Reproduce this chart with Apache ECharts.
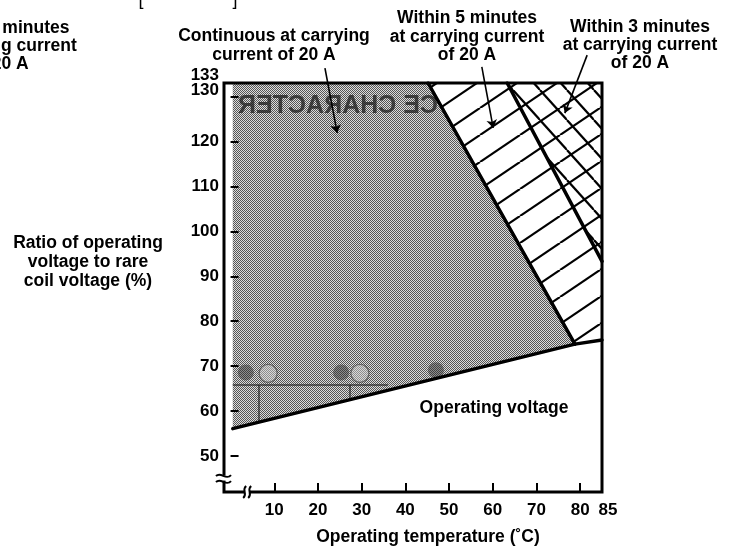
<!DOCTYPE html>
<html><head><meta charset="utf-8">
<script src="https://cdn.jsdelivr.net/npm/echarts@6/dist/echarts.min.js"></script>
<style>html,body{margin:0;padding:0;background:#fff}#c{width:734px;height:556px}</style>
</head><body><div id="c"></div>
<script>
// ---- axis ticks / labels ----
const xLabelValues = [10, 20, 30, 40, 50, 60, 70, 80, 85];
const xTickValues = [10, 20, 30, 40, 50, 60, 70, 80];
const yLabelValues = [50, 60, 70, 80, 90, 100, 110, 120, 130];
const yTopLabelValues = [133];
const yTickValues = [50, 60, 70, 80, 90, 100, 110, 120, 130];

// ---- regions (temperature °C, voltage ratio %) ----
const continuousRegion = [[0.5, 56.1], [0.5, 133], [45.2, 133], [78.8, 74.9]];
const fiveMinRegion = [[45.2, 133], [85, 133], [85, 75.8], [78.8, 74.9]];
const threeMinRegion = [[63.3, 133], [85, 133], [85, 93.3]];

// ---- boundary lines ----
const operatingLine = [[0.5, 56.1], [78.8, 74.9], [85, 75.8]];
const continuousLimit = [[45.2, 133], [78.8, 74.9]];
const fiveMinLimit = [[63.3, 133], [85, 93.3]];

// ---- leader arrows ----
const leaders = [
  [[21.6, 136.3], [24.4, 121.9]],
  [[57.5, 136.6], [60.1, 123.0]],
  [[81.6, 139.2], [76.5, 126.3]]
];

// ---- axis break marks [x, y, kind] kind 0 = y-axis, 1 = x-axis ----
const axisBreaks = [[-1.5, 45.1, 0], [3.8, 42, 1]];

// ---- faint show-through marks from the reverse page ----
const ghostDark = [[3.5, 68.6], [25.3, 68.6], [47.0, 69.1]];
const ghostLight = [[8.6, 68.4], [29.6, 68.4]];
const ghostLines = [
  [[0.5, 65.8], [36, 65.8]],
  [[6.5, 65.8], [6.5, 57.8]],
  [[27.3, 65.8], [27.3, 62.8]]
];

const FONT = "'Liberation Sans', Arial, Helvetica, sans-serif";

function ditherPattern() {
  const c = document.createElement('canvas');
  c.width = 2; c.height = 2;
  const g = c.getContext('2d');
  g.fillStyle = '#dcdcdc'; g.fillRect(0, 0, 2, 2);
  g.fillStyle = '#555555'; g.fillRect(0, 0, 1, 1); g.fillRect(1, 1, 1, 1);
  return { image: c, repeat: 'repeat' };
}
function hatchPattern(w, h, dir, bg) {
  const c = document.createElement('canvas');
  c.width = w; c.height = h;
  const g = c.getContext('2d');
  if (bg) { g.fillStyle = bg; g.fillRect(0, 0, w, h); }
  g.strokeStyle = '#000'; g.lineWidth = 2.2; g.lineCap = 'butt';
  for (const k of [-1, 0, 1]) {
    g.beginPath();
    if (dir === '/') { g.moveTo(k * w, h); g.lineTo((k + 1) * w, 0); }
    else { g.moveTo(k * w, 0); g.lineTo((k + 1) * w, h); }
    g.stroke();
  }
  return { image: c, repeat: 'repeat' };
}

function polygonSeries(points, fill, z) {
  return {
    type: 'custom', coordinateSystem: 'cartesian2d', z: z, silent: true, clip: true,
    data: [[10, 100]],
    renderItem: function (params, api) {
      const pts = points.map(p => api.coord(p));
      return { type: 'polygon', shape: { points: pts }, style: { fill: fill, stroke: null } };
    }
  };
}
function lineSeries(data, width, z, color) {
  return {
    type: 'line', data: data, symbol: 'none', z: z, silent: true, clip: true,
    lineStyle: { color: color || '#000', width: width, cap: 'round' }, animation: false
  };
}

const chart = echarts.init(document.getElementById('c'), null, { renderer: 'canvas' });

const TS = 17.5;
const txt = (x, y, text, lh, extra) => Object.assign({
  type: 'text', x: x, y: y, z: 20, silent: true,
  style: { text: text, fontFamily: FONT, fontWeight: 'bold', fontSize: TS, lineHeight: lh, fill: '#000', align: 'center', verticalAlign: 'middle' }
}, extra || {});

const labelBase = { color: '#000', fontFamily: FONT, fontWeight: 'bold', fontSize: 17 };

const option = {
  animation: false,
  backgroundColor: '#fff',
  grid: { left: 224, top: 83, width: 378, height: 409, show: true, borderColor: '#000', borderWidth: 3, backgroundColor: 'transparent', z: 4 },
  xAxis: {
    type: 'value', min: -1.5, max: 85, z: 5,
    axisLine: { show: false },
    splitLine: { show: false },
    axisTick: { show: true, inside: true, length: 9, customValues: xTickValues, lineStyle: { color: '#000', width: 2 } },
    axisLabel: Object.assign({
      customValues: xLabelValues, margin: 10,
      showMinLabel: true, showMaxLabel: true, hideOverlap: false,
      formatter: v => v === 85 ? '{r|85}' : String(v),
      rich: { r: Object.assign({ padding: [0, 0, 0, 12] }, labelBase) }
    }, labelBase)
  },
  yAxis: [{
    type: 'value', min: 42, max: 133, z: 5, position: 'left',
    axisLine: { show: false },
    splitLine: { show: false },
    axisTick: { show: true, inside: true, length: 8, customValues: yTickValues, lineStyle: { color: '#000', width: 2 } },
    axisLabel: Object.assign({
      customValues: yLabelValues, margin: 5,
      showMinLabel: true, showMaxLabel: true, hideOverlap: false,
      formatter: v => v === 130 ? '{s|130}' : String(v),
      rich: { s: Object.assign({ padding: [0, 0, 13, 0] }, labelBase) }
    }, labelBase)
  }, {
    type: 'value', min: 42, max: 133, z: 5, position: 'left', offset: 0,
    axisLine: { show: false },
    splitLine: { show: false },
    axisTick: { show: false },
    axisLabel: Object.assign({
      customValues: yTopLabelValues, margin: 5,
      showMinLabel: true, showMaxLabel: true, hideOverlap: false,
      formatter: v => '{t|' + v + '}',
      rich: { t: Object.assign({ padding: [0, 0, 16, 0] }, labelBase) }
    }, labelBase)
  }],
  series: [
    polygonSeries(continuousRegion, ditherPattern(), 1),
    polygonSeries(fiveMinRegion, hatchPattern(40, 27, '/', '#fff'), 1),
    polygonSeries(threeMinRegion, hatchPattern(27, 30, '\\', null), 1),
    {
      type: 'scatter', data: ghostDark, symbolSize: 16, z: 2, silent: true,
      itemStyle: { color: 'rgba(40,40,40,0.55)' }
    },
    {
      type: 'scatter', data: ghostLight, symbolSize: 18, z: 2, silent: true,
      itemStyle: { color: 'rgba(215,215,215,0.55)', borderColor: 'rgba(50,50,50,0.7)', borderWidth: 1.2 }
    },
    {
      type: 'lines', coordinateSystem: 'cartesian2d', z: 2, silent: true,
      data: ghostLines.map(c => ({ coords: c })),
      lineStyle: { color: 'rgba(30,30,30,0.75)', width: 1.5, opacity: 1 }
    },
    lineSeries(operatingLine, 3.5, 3),
    lineSeries(continuousLimit, 3.5, 3),
    lineSeries(fiveMinLimit, 3.5, 3),
    {
      type: 'lines', coordinateSystem: 'cartesian2d', z: 6, silent: true, clip: false,
      data: leaders.map(c => ({ coords: c })),
      symbol: ['none', 'arrow'], symbolSize: 8,
      lineStyle: { color: '#000', width: 1.6, opacity: 1 }
    },
    {
      type: 'custom', coordinateSystem: 'cartesian2d', z: 10, silent: true, clip: false,
      data: axisBreaks,
      renderItem: function (params, api) {
        const p = api.coord([api.value(0), api.value(1)]);
        const x = p[0], y = p[1];
        const st = { stroke: '#000', lineWidth: 2, fill: null };
        if (api.value(2) === 0) {
          return { type: 'group', children: [
            { type: 'rect', shape: { x: x - 4, y: y - 2.5, width: 8, height: 5 }, style: { fill: '#fff' } },
            { type: 'bezierCurve', shape: { x1: x - 8, y1: y - 2, cpx1: x - 3, cpy1: y - 7, cpx2: x + 2, cpy2: y + 3, x2: x + 7, y2: y - 3 }, style: st },
            { type: 'bezierCurve', shape: { x1: x - 8, y1: y + 4, cpx1: x - 3, cpy1: y - 1, cpx2: x + 2, cpy2: y + 9, x2: x + 7, y2: y + 3 }, style: st }
          ] };
        }
        return { type: 'group', children: [
          { type: 'rect', shape: { x: x - 2.5, y: y - 4, width: 5, height: 8 }, style: { fill: '#fff' } },
          { type: 'bezierCurve', shape: { x1: x - 1, y1: y - 6, cpx1: x - 6, cpy1: y - 2, cpx2: x + 1, cpy2: y + 2, x2: x - 4, y2: y + 6 }, style: st },
          { type: 'bezierCurve', shape: { x1: x + 4, y1: y - 6, cpx1: x - 1, cpy1: y - 2, cpx2: x + 6, cpy2: y + 2, x2: x + 1, y2: y + 6 }, style: st }
        ] };
      }
    }
  ],
  graphic: [
    txt(338, 106, 'CE CHARACTER', 25, { scaleX: -1, z: 2, style: { text: 'CE CHARACTER', fontFamily: FONT, fontWeight: 'bold', fontSize: 25, fill: 'rgba(25,25,25,0.72)', align: 'center', verticalAlign: 'middle' } }),
    txt(-0.5, 46, 'Within 3 minutes\nat carrying current\nof 20 A', 18),
    txt(274, 45.5, 'Continuous at carrying\ncurrent of 20 A', 19),
    txt(467, 37, 'Within 5 minutes\nat carrying current\nof 20 A', 18.5),
    txt(640, 45, 'Within 3 minutes\nat carrying current\nof 20 A', 18),
    txt(88, 262, 'Ratio of operating\nvoltage to rare\ncoil voltage (%)', 19),
    txt(494, 408, 'Operating voltage', 19),
    txt(428, 537, 'Operating temperature (˚C)', 19),
    txt(141, 9, '[', 18, { style: { text: '[', fontFamily: FONT, fontSize: 18, fill: '#000', align: 'center', verticalAlign: 'bottom' } }),
    txt(235, 9, ']', 18, { style: { text: ']', fontFamily: FONT, fontSize: 18, fill: '#000', align: 'center', verticalAlign: 'bottom' } })
  ]
};
chart.setOption(option);
</script>
</body></html>
